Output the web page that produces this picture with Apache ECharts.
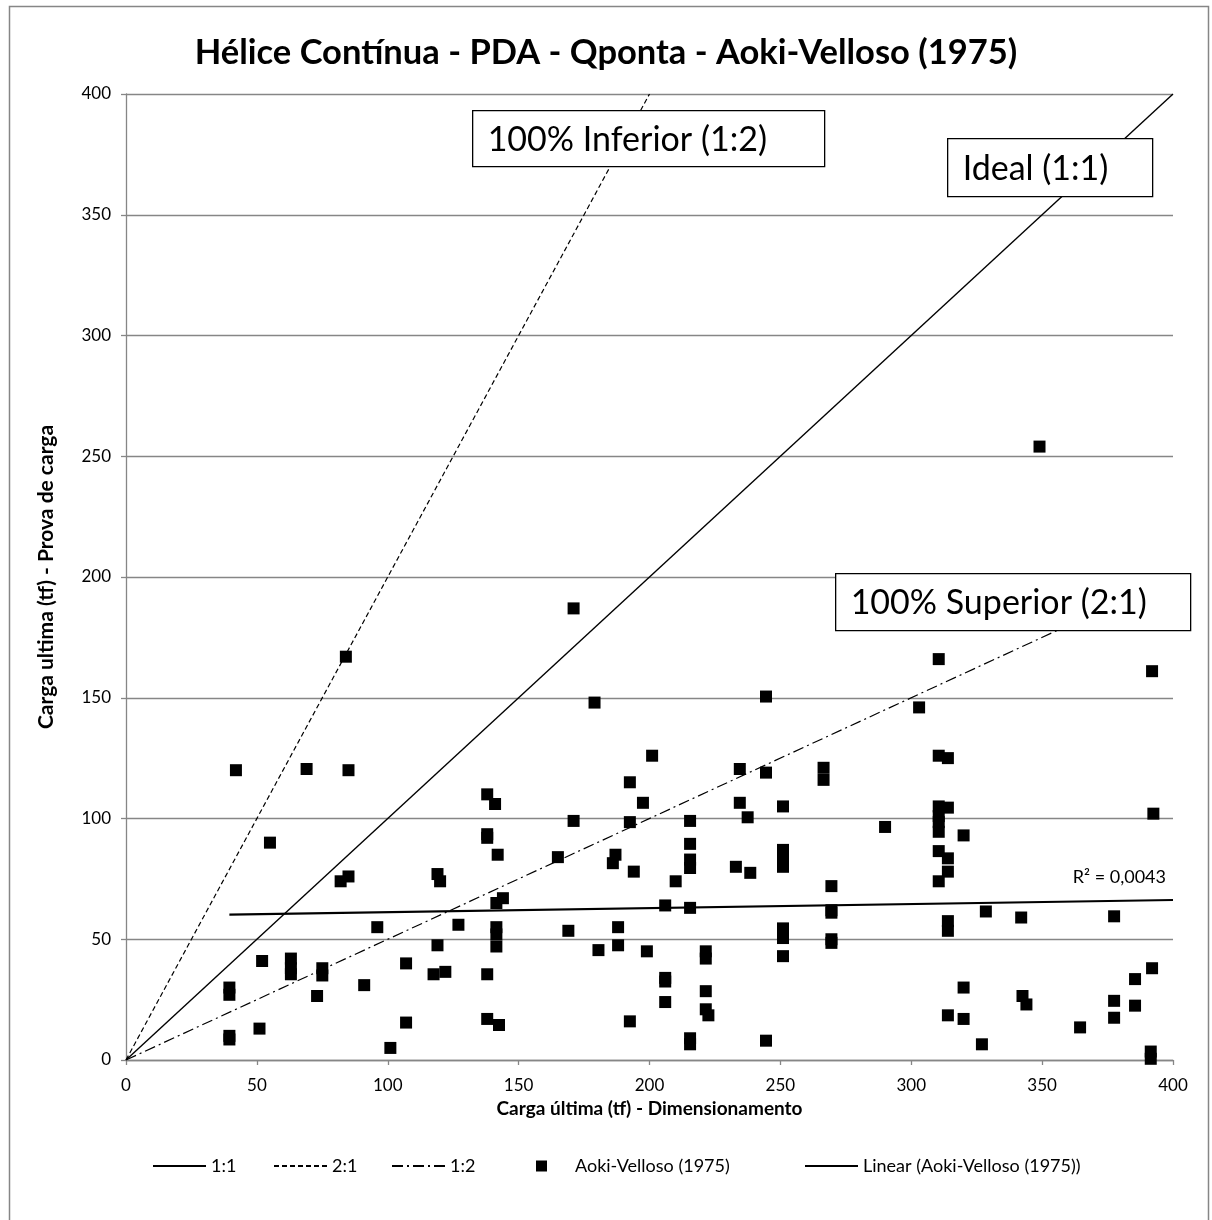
<!DOCTYPE html>
<html>
<head>
<meta charset="utf-8">
<title>Hélice Contínua - PDA - Qponta - Aoki-Velloso (1975)</title>
<script src="https://cdn.jsdelivr.net/npm/echarts@6/dist/echarts.min.js"></script>
<style>
  html, body { margin: 0; padding: 0; background: #fff; }
  #chart { width: 1212px; height: 1220px; }
</style>
</head>
<body>
<div id="chart"></div>
<script>
// Carga última (tf): dimensionamento (x) vs prova de carga (y)
const dimensionamento = [
  39.5, 39.5, 39.5, 39.5, 42, 51, 52, 55, 63, 63, 63, 69, 73, 75, 75, 82, 84, 85, 85, 91, 96, 101, 107, 107,
  117.5, 119, 119, 120, 122, 127, 138, 138, 138, 138, 138, 141, 141.5, 142, 141.5, 141.5, 141.5, 142.5, 144,
  165, 169, 171, 171, 179, 180.5, 186, 187, 188, 188, 192.5, 192.5, 192.5, 194, 197.5, 199, 201,
  206, 206, 206, 206, 210, 215.5, 215.5, 215.5, 215.5, 215.5, 215.5, 215.5, 221.5, 221.5, 221.5, 221.5, 222.5,
  233, 234.5, 234.5, 237.5, 238.5, 244.5, 244.5, 244.5, 251, 251, 251, 251, 251, 251, 251,
  266.5, 266.5, 269.5, 269.5, 269.5, 269.5, 269.5, 290, 303,
  310.5, 310.5, 314, 310.5, 314, 310.5, 310.5, 310.5, 310.5, 314, 314, 310.5, 314, 314, 314,
  320, 320, 320, 327, 328.5, 342, 342.5, 344, 349, 364.5, 377.5, 377.5, 377.5, 385.5, 385.5, 392, 392.5, 392, 391.5, 391.5
];
const provaDeCarga = [
  30, 27, 10, 8.5, 120, 13, 41, 90, 42, 38, 35.5, 120.5, 26.5, 38, 35, 74, 167, 120, 76, 31, 55, 5, 40, 15.5,
  35.5, 77, 47.5, 74, 36.5, 56, 110, 93.5, 92, 35.5, 17, 106, 65, 85, 55, 52, 47, 14.5, 67,
  84, 53.5, 187, 99, 148, 45.5, 81.5, 85, 55, 47.5, 115, 98.5, 16, 78, 106.5, 45, 126,
  64, 34, 32.5, 24, 74, 99, 89.5, 83, 79.5, 63, 9, 6.5, 45, 42, 28.5, 21, 18.5,
  80, 120.5, 106.5, 100.5, 77.5, 150.5, 119, 8, 105, 87, 84, 80, 54.5, 50.5, 43,
  121, 116, 72, 62, 61, 50, 48.5, 96.5, 146,
  166, 126, 125, 105, 104.5, 101, 98.5, 94.5, 86.5, 83.5, 78, 74, 57.5, 53.5, 18.5,
  93, 30, 17, 6.5, 61.5, 59, 26.5, 23, 254, 13.5, 59.5, 24.5, 17.5, 33.5, 22.5, 161, 102, 38, 3.5, 0.5
];

// Reference lines through the origin: y = x, y = 2x, y = x/2
const linha11 = [[0, 0], [400, 400]];
const linha21 = [[0, 0], [200, 400]];
const linha12 = [[0, 0], [400, 200]];

// Linear trend of the series: [intercept, slope], with its R² label
const trendCoef = [59.5, 0.0169];
const r2Label = 'R² = 0,0043';

const axisTicks = { min: 0, max: 400, interval: 50 };

const pontos = dimensionamento.map((x, i) => [x, provaDeCarga[i]]);

// Trend drawn from the smallest x of the data to the end of the axis
const trendX0 = Math.min.apply(null, dimensionamento);
const tendencia = [trendX0, axisTicks.max].map(x => [x, trendCoef[0] + trendCoef[1] * x]);

const FONT = 'Lato, "Open Sans", sans-serif';
const GRID_GRAY = '#868686';
const LABEL_SIZE = 17;

function legendAt(left, name, extra) {
  return Object.assign({
    left: left, top: 1157, padding: 0,
    itemWidth: 53, itemHeight: 12, itemGap: 0,
    itemStyle: { opacity: 0 },
    textStyle: { fontFamily: FONT, fontSize: 18, color: '#000' },
    data: [name],
    selectedMode: false
  }, extra || {});
}

function textBox(left, top, width, height, text) {
  return {
    type: 'group', left: left, top: top, z: 100,
    children: [
      { type: 'rect', shape: { x: 0, y: 0, width: width, height: height },
        style: { fill: '#fff', stroke: '#000', lineWidth: 1.3 }, z: 100 },
      { type: 'text', x: 15, y: height / 2 + 1, z: 101,
        style: { text: text, font: '34px ' + FONT, fill: '#000', verticalAlign: 'middle' } }
    ]
  };
}

const chart = echarts.init(document.getElementById('chart'), null, { renderer: 'canvas' });

chart.setOption({
  backgroundColor: '#fff',
  animation: false,
  title: {
    text: 'Hélice Contínua - PDA - Qponta - Aoki-Velloso (1975)',
    left: 'center', top: 30,
    textStyle: { fontFamily: FONT, fontSize: 34.5, fontWeight: 'bold', color: '#000' }
  },
  grid: { left: 126, right: 39, top: 94, bottom: 160 },
  xAxis: {
    type: 'value', min: axisTicks.min, max: axisTicks.max, interval: axisTicks.interval,
    name: 'Carga última (tf) - Dimensionamento',
    nameLocation: 'middle', nameGap: 39, nameMoveOverlap: false,
    nameTextStyle: { fontFamily: FONT, fontSize: 19, fontWeight: 'bold', color: '#000' },
    axisLine: { show: true, onZero: false, lineStyle: { color: GRID_GRAY, width: 1.3 } },
    axisTick: { show: true, inside: false, length: 5, lineStyle: { color: GRID_GRAY, width: 1.3 } },
    axisLabel: { fontFamily: FONT, fontSize: LABEL_SIZE, color: '#000', margin: 17 },
    splitLine: { show: false }
  },
  yAxis: {
    type: 'value', min: axisTicks.min, max: axisTicks.max, interval: axisTicks.interval,
    name: 'Carga ultima (tf) - Prova de carga',
    nameLocation: 'middle', nameGap: 69, nameRotate: 90, nameMoveOverlap: false,
    nameTextStyle: { fontFamily: FONT, fontSize: 21, fontWeight: 'bold', color: '#000' },
    axisLine: { show: true, onZero: false, lineStyle: { color: GRID_GRAY, width: 1.3 } },
    axisTick: { show: true, inside: false, length: 5, lineStyle: { color: GRID_GRAY, width: 1.3 } },
    axisLabel: { fontFamily: FONT, fontSize: LABEL_SIZE, color: '#000', margin: 15 },
    splitLine: { show: true, lineStyle: { color: GRID_GRAY, width: 1.3 } }
  },
  legend: [
    legendAt(152, '1:1'),
    legendAt(273, '2:1'),
    legendAt(391, '1:2'),
    legendAt(536, 'Aoki-Velloso (1975)', {
      itemWidth: 11, itemHeight: 11, icon: 'rect',
      itemStyle: { opacity: 1, color: '#000' },
      textStyle: { fontFamily: FONT, fontSize: 18, color: '#000', padding: [0, 0, 0, 23] }
    }),
    legendAt(804, 'Linear (Aoki-Velloso (1975))')
  ],
  series: [
    { name: '1:1', type: 'line', data: linha11, symbol: 'none', z: 3,
      lineStyle: { color: '#000', width: 1.4, type: 'solid' }, itemStyle: { color: '#000' } },
    { name: '2:1', type: 'line', data: linha21, symbol: 'none', z: 3,
      lineStyle: { color: '#000', width: 1.2, type: [5, 3] }, itemStyle: { color: '#000' } },
    { name: '1:2', type: 'line', data: linha12, symbol: 'none', z: 3,
      lineStyle: { color: '#000', width: 1.2, type: [11, 4, 2, 4] }, itemStyle: { color: '#000' } },
    { name: 'Aoki-Velloso (1975)', type: 'scatter', data: pontos, symbol: 'rect', symbolSize: 12, z: 4,
      itemStyle: { color: '#000', opacity: 1 } },
    { name: 'Linear (Aoki-Velloso (1975))', type: 'line', data: tendencia, symbol: 'none', z: 5,
      lineStyle: { color: '#000', width: 2.2 }, itemStyle: { color: '#000' } }
  ],
  graphic: [
    { type: 'rect', left: 7, top: 4, z: -10, silent: true,
      shape: { x: 0, y: 0, width: 1199, height: 1240 },
      style: { fill: 'none', stroke: GRID_GRAY, lineWidth: 1.5 } },
    textBox(472, 110, 352, 56, '100% Inferior (1:2)'),
    textBox(947, 138, 205, 58, 'Ideal (1:1)'),
    textBox(835, 573, 355, 57, '100% Superior (2:1)'),
    { type: 'text', right: 1212 - 1166, top: 868, z: 50,
      style: { text: r2Label, font: '18px ' + FONT, fill: '#000' } }
  ]
});
</script>
</body>
</html>
